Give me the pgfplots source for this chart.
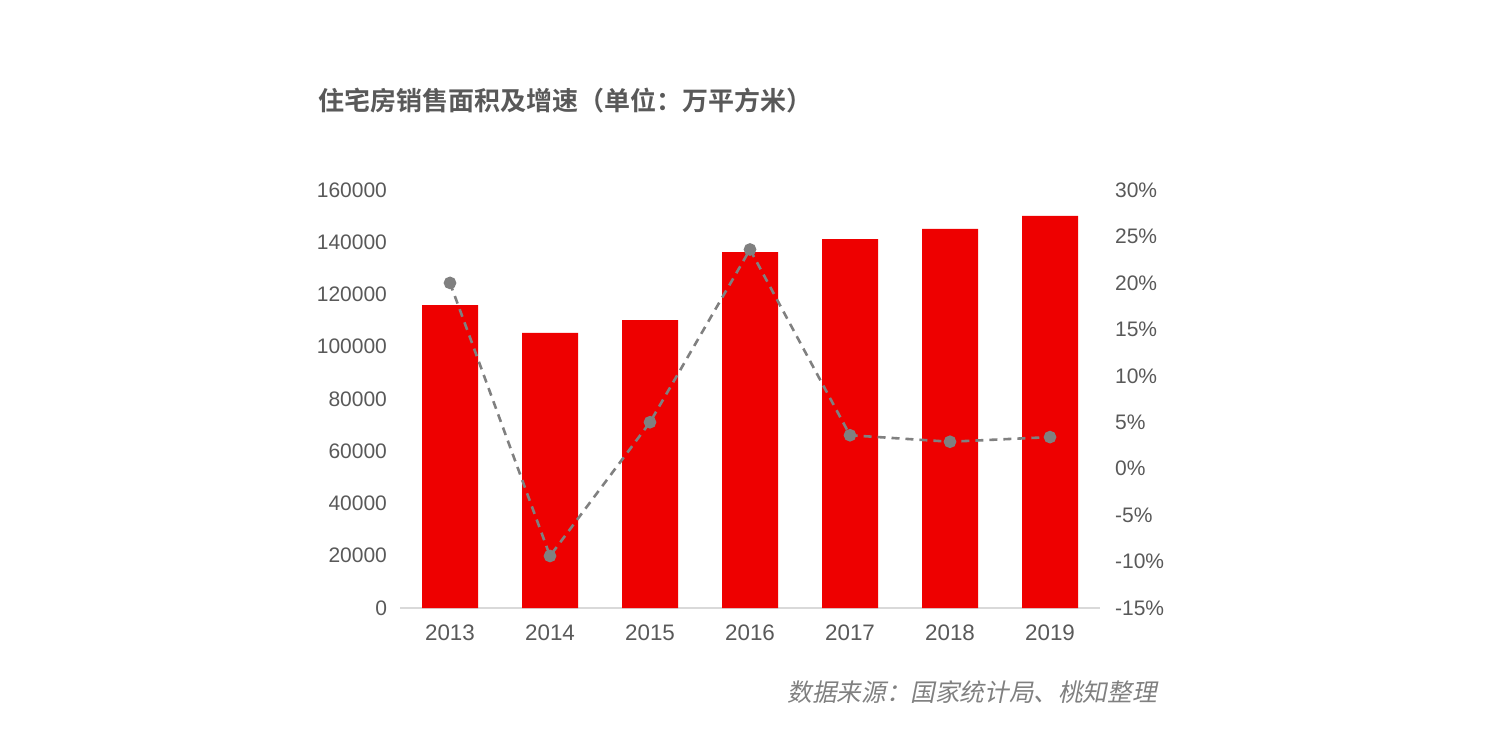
\documentclass[border=0pt]{standalone}
\usepackage{pgfplots}
\pgfplotsset{compat=1.18}
\usepackage{fontspec}
\setmainfont{Liberation Sans}
\newfontfamily\cjk{Noto Sans CJK SC}
\newfontfamily\cjkb{Noto Sans CJK SC Bold}
\newfontfamily\cjkit[FakeSlant=0.2]{Noto Sans CJK SC}
\definecolor{barred}{HTML}{EE0000}
\definecolor{txtgray}{HTML}{595959}
\definecolor{linegray}{HTML}{808080}
\definecolor{axgray}{HTML}{D9D9D9}
\begin{document}
\begin{tikzpicture}
\useasboundingbox (0,0) rectangle (751pt,376pt);
\begin{axis}[
  at={(200pt,72pt)}, anchor=south west,
  scale only axis, width=350pt, height=209pt,
  xmin=-0.5, xmax=6.5, ymin=0, ymax=160000,
  xtick={0,...,6}, xticklabels={2013,2014,2015,2016,2017,2018,2019},
  ytick={0,20000,...,160000},
  yticklabels={0,20000,40000,60000,80000,100000,120000,140000,160000},
  scaled y ticks=false,
  axis y line*=left, axis x line*=bottom,
  y axis line style={draw=none},
  x axis line style={draw=axgray, line width=0.6pt},
  major tick length=0pt,
  tick style={draw=none},
  ticklabel style={font=\fontsize{10.5}{12}\selectfont, text=txtgray},
  xticklabel style={font=\fontsize{11.2}{12}\selectfont, yshift=-5pt},
  yticklabel style={xshift=-3pt},
  clip=false,
]
\addplot[ybar, bar width=28pt, fill=barred, draw=none] coordinates {
(0,115900) (1,105300) (2,110200) (3,136200) (4,141200) (5,145100) (6,150100)};
\end{axis}
\begin{axis}[
  at={(200pt,72pt)}, anchor=south west,
  scale only axis, width=350pt, height=209pt,
  xmin=-0.5, xmax=6.5, ymin=-15, ymax=30,
  ytick={-15,-10,...,30},
  yticklabels={-15\%,-10\%,-5\%,0\%,5\%,10\%,15\%,20\%,25\%,30\%},
  axis y line*=right, axis x line=none,
  y axis line style={draw=none},
  major tick length=0pt,
  tick style={draw=none},
  ticklabel style={font=\fontsize{10.5}{12}\selectfont, text=txtgray},
  yticklabel style={xshift=4pt},
  clip=false,
]
\addplot[linegray, line width=1.3pt, dash pattern=on 4pt off 3pt,
  mark=*, mark size=2.5pt, mark options={solid, fill=linegray, draw=linegray}] coordinates {
(0,20.0) (1,-9.4) (2,5.0) (3,23.6) (4,3.6) (5,2.9) (6,3.4)};
\end{axis}
\node[anchor=west, text=txtgray, inner sep=0pt] at (159pt,325.5pt) {\cjkb\fontsize{13}{15}\selectfont 住宅房销售面积及增速（单位：万平方米）};
\node[anchor=east, text=linegray, inner sep=0pt] at (578.5pt,30pt) {\cjkit\fontsize{12.3}{14}\selectfont 数据来源：国家统计局、桃知整理};
\end{tikzpicture}
\end{document}
